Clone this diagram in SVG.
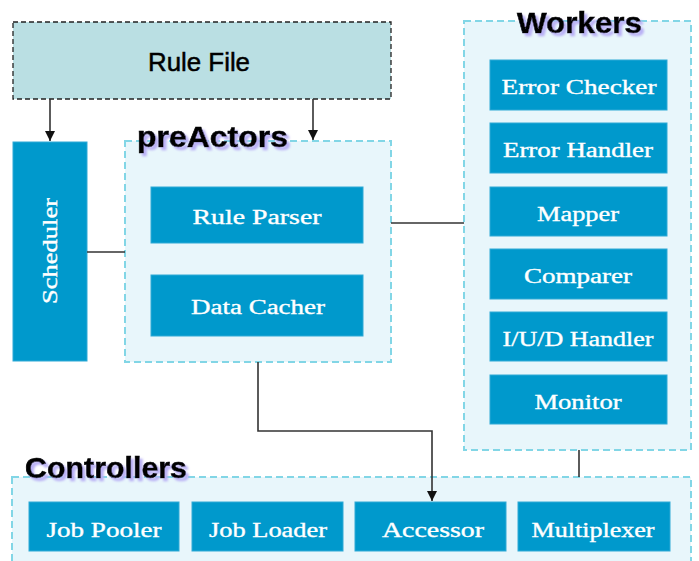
<svg xmlns="http://www.w3.org/2000/svg" width="699" height="561" viewBox="0 0 699 561">
  <defs>
    <marker id="arrow" viewBox="0 0 10 10" refX="10" refY="5" markerWidth="10" markerHeight="10" markerUnits="userSpaceOnUse" orient="auto">
      <path d="M0,0 L10,5 L0,10 Z" fill="#111"/>
    </marker>
    <filter id="titleShadow" x="-10%" y="-30%" width="130%" height="180%">
      <feGaussianBlur in="SourceAlpha" stdDeviation="1.2" result="b"/>
      <feOffset in="b" dx="3" dy="3" result="o"/>
      <feFlood flood-color="#b9b0f5"/>
      <feComposite in2="o" operator="in" result="s"/>
      <feMerge><feMergeNode in="s"/><feMergeNode in="SourceGraphic"/></feMerge>
    </filter>
  </defs>
  <style>
    .group { fill: #E8F6FB; stroke: #82D6E6; stroke-width: 2; stroke-dasharray: 7 4; }
    .box { fill: #0099CC; stroke: #2FA9D6; stroke-width: 1; }
    .label { font-family: "Liberation Serif", "DejaVu Serif", serif; font-size: 20px; fill: #ffffff; stroke: #ffffff; stroke-width: 0.35; text-anchor: middle; }
    .title { font-family: "Liberation Sans", Arial, sans-serif; font-weight: bold; font-size: 29px; fill: #000; stroke: #000; stroke-width: 0.6; filter: url(#titleShadow); }
    .wire { fill: none; stroke: #333; stroke-width: 1.6; }
  </style>

  <rect width="699" height="561" fill="#ffffff"/>

  <!-- Rule file source -->
  <g id="rule-file">
    <rect x="13" y="22" width="378" height="77" fill="#BADFE3" stroke="#222" stroke-width="1.3" stroke-dasharray="5 3"/>
    <text x="199" y="71" font-family="Liberation Sans, Arial, sans-serif" font-size="26" fill="#000" stroke="#000" stroke-width="0.5" text-anchor="middle" textLength="102" lengthAdjust="spacingAndGlyphs">Rule File</text>
  </g>

  <!-- Scheduler -->
  <g id="scheduler">
    <rect class="box" x="13" y="142" width="74" height="219"/>
    <text class="label" transform="translate(57,251) rotate(-90)" textLength="106" lengthAdjust="spacingAndGlyphs">Scheduler</text>
  </g>

  <!-- preActors -->
  <g id="preactors">
    <rect class="group" x="125" y="141" width="266" height="221"/>
    <text class="title" x="137" y="147" textLength="151" lengthAdjust="spacingAndGlyphs">preActors</text>
    <g id="rule-parser">
      <rect class="box" x="151" y="187" width="212" height="56"/>
      <text class="label" x="257" y="224" textLength="129" lengthAdjust="spacingAndGlyphs">Rule Parser</text>
    </g>
    <g id="data-cacher">
      <rect class="box" x="151" y="275" width="212" height="61"/>
      <text class="label" x="258" y="314" textLength="134" lengthAdjust="spacingAndGlyphs">Data Cacher</text>
    </g>
  </g>

  <!-- Workers -->
  <g id="workers">
    <rect class="group" x="464" y="21" width="227" height="429"/>
    <text class="title" x="517" y="33" textLength="125" lengthAdjust="spacingAndGlyphs">Workers</text>
    <g id="error-checker">
      <rect class="box" x="490" y="60" width="177" height="50"/>
      <text class="label" x="579" y="94" textLength="155" lengthAdjust="spacingAndGlyphs">Error Checker</text>
    </g>
    <g id="error-handler">
      <rect class="box" x="490" y="123" width="177" height="50"/>
      <text class="label" x="578" y="157" textLength="150" lengthAdjust="spacingAndGlyphs">Error Handler</text>
    </g>
    <g id="mapper">
      <rect class="box" x="490" y="187" width="177" height="49"/>
      <text class="label" x="578" y="221" textLength="82" lengthAdjust="spacingAndGlyphs">Mapper</text>
    </g>
    <g id="comparer">
      <rect class="box" x="490" y="249" width="177" height="50"/>
      <text class="label" x="578" y="283" textLength="108" lengthAdjust="spacingAndGlyphs">Comparer</text>
    </g>
    <g id="iud-handler">
      <rect class="box" x="490" y="312" width="177" height="49"/>
      <text class="label" x="578" y="346" textLength="151" lengthAdjust="spacingAndGlyphs">I/U/D Handler</text>
    </g>
    <g id="monitor">
      <rect class="box" x="490" y="375" width="177" height="49"/>
      <text class="label" x="578" y="409" textLength="87" lengthAdjust="spacingAndGlyphs">Monitor</text>
    </g>
  </g>

  <!-- Controllers -->
  <g id="controllers">
    <rect class="group" x="12" y="477" width="679" height="100"/>
    <text class="title" x="25" y="478" textLength="162" lengthAdjust="spacingAndGlyphs">Controllers</text>
    <g id="job-pooler">
      <rect class="box" x="29" y="502" width="150" height="49"/>
      <text class="label" x="104" y="537" textLength="115" lengthAdjust="spacingAndGlyphs">Job Pooler</text>
    </g>
    <g id="job-loader">
      <rect class="box" x="192" y="502" width="151" height="49"/>
      <text class="label" x="268" y="537" textLength="118" lengthAdjust="spacingAndGlyphs">Job Loader</text>
    </g>
    <g id="accessor">
      <rect class="box" x="355" y="502" width="151" height="49"/>
      <text class="label" x="433" y="537" textLength="102" lengthAdjust="spacingAndGlyphs">Accessor</text>
    </g>
    <g id="multiplexer">
      <rect class="box" x="518" y="502" width="152" height="49"/>
      <text class="label" x="593" y="537" textLength="123" lengthAdjust="spacingAndGlyphs">Multiplexer</text>
    </g>
  </g>

  <!-- Connectors -->
  <g id="connectors">
    <path class="wire" d="M50,99 V141" marker-end="url(#arrow)"/>
    <path class="wire" d="M313,99 V140" marker-end="url(#arrow)"/>
    <path class="wire" d="M87,252 H125"/>
    <path class="wire" d="M391,223 H464"/>
    <path class="wire" d="M258,362 V431 H432 V501" marker-end="url(#arrow)"/>
    <path class="wire" d="M579,450 V477"/>
  </g>
</svg>
